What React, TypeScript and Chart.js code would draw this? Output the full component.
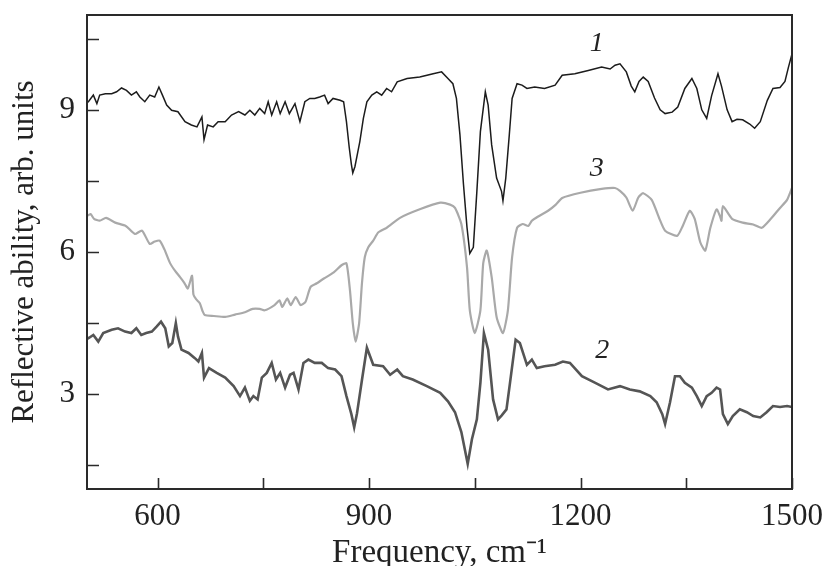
import React, { useEffect, useRef } from "react";
import { Chart, registerables } from "chart.js";

Chart.register(...registerables);

// Curve 1 (black, top)
const FREQ_1 = [500, 502, 509, 514, 518, 526, 535, 542, 549, 556, 563, 570, 575, 582, 589, 596, 602, 607, 613, 620, 629, 639, 648, 656, 663, 666, 671, 679, 686, 696, 705, 715, 724, 731, 738, 745, 752, 757, 762, 769, 774, 781, 787, 795, 802, 809, 816, 823, 830, 837, 842, 849, 859, 864, 868, 872, 875, 877, 880, 884, 887, 892, 897, 904, 911, 918, 925, 932, 940, 954, 972, 991, 1003, 1012, 1019, 1024, 1029, 1034, 1039, 1043, 1048, 1053, 1058, 1065, 1069, 1074, 1081, 1088, 1090, 1094, 1099, 1103, 1110, 1117, 1124, 1135, 1149, 1164, 1174, 1192, 1211, 1230, 1242, 1249, 1256, 1265, 1272, 1277, 1283, 1289, 1296, 1305, 1313, 1320, 1330, 1338, 1348, 1358, 1365, 1372, 1379, 1386, 1395, 1400, 1408, 1415, 1422, 1430, 1440, 1447, 1455, 1465, 1473, 1483, 1490, 1495, 1500];
const REFL_1 = [9.15, 9.17, 9.31, 9.13, 9.31, 9.34, 9.34, 9.38, 9.46, 9.41, 9.31, 9.38, 9.27, 9.17, 9.31, 9.27, 9.48, 9.31, 9.1, 8.99, 8.96, 8.75, 8.68, 8.64, 8.85, 8.37, 8.68, 8.64, 8.75, 8.75, 8.89, 8.96, 8.89, 8.99, 8.89, 9.03, 8.92, 9.17, 8.89, 9.17, 8.92, 9.17, 8.92, 9.13, 8.75, 9.17, 9.24, 9.24, 9.27, 9.31, 9.13, 9.24, 9.2, 9.17, 8.75, 8.2, 7.85, 7.67, 7.8, 8.1, 8.33, 8.82, 9.17, 9.31, 9.38, 9.31, 9.45, 9.38, 9.59, 9.66, 9.69, 9.76, 9.8, 9.66, 9.55, 9.24, 8.47, 7.43, 6.52, 5.97, 6.1, 7.28, 8.54, 9.38, 9.1, 8.26, 7.56, 7.28, 7.08, 7.56, 8.47, 9.24, 9.55, 9.52, 9.45, 9.48, 9.45, 9.52, 9.73, 9.76, 9.83, 9.9, 9.86, 9.94, 9.97, 9.8, 9.5, 9.38, 9.6, 9.69, 9.6, 9.25, 9.0, 8.92, 8.95, 9.06, 9.45, 9.66, 9.45, 9.0, 8.82, 9.3, 9.76, 9.5, 9.0, 8.75, 8.8, 8.79, 8.7, 8.61, 8.75, 9.2, 9.45, 9.47, 9.6, 9.9, 10.18];

// Curve 3 (light grey, middle)
const FREQ_3 = [500, 505, 510, 518, 527, 540, 555, 568, 578, 589, 596, 603, 610, 618, 625, 632, 638, 643, 649, 651, 655, 660, 664, 667, 680, 696, 710, 724, 735, 745, 752, 766, 773, 777, 784, 789, 796, 803, 810, 817, 826, 836, 850, 861, 868, 873, 877, 881, 886, 890, 894, 899, 906, 913, 925, 944, 972, 1001, 1015, 1022, 1031, 1039, 1043, 1050, 1058, 1062, 1067, 1074, 1081, 1090, 1097, 1103, 1110, 1118, 1126, 1131, 1140, 1154, 1165, 1174, 1200, 1230, 1249, 1256, 1265, 1274, 1282, 1289, 1301, 1312, 1320, 1337, 1345, 1355, 1362, 1370, 1377, 1384, 1393, 1398, 1400, 1402, 1415, 1430, 1445, 1457, 1470, 1483, 1493, 1500];
const REFL_3 = [6.76, 6.8, 6.7, 6.66, 6.72, 6.62, 6.55, 6.38, 6.45, 6.17, 6.22, 6.24, 6.05, 5.76, 5.6, 5.47, 5.35, 5.23, 5.5, 5.1, 5.0, 4.92, 4.75, 4.67, 4.65, 4.63, 4.68, 4.73, 4.8, 4.8, 4.77, 4.88, 4.98, 4.84, 5.02, 4.88, 5.05, 4.88, 4.95, 5.26, 5.34, 5.44, 5.57, 5.72, 5.76, 5.19, 4.5, 4.11, 4.5, 5.34, 5.89, 6.1, 6.24, 6.41, 6.51, 6.72, 6.9, 7.04, 7.0, 6.93, 6.59, 5.68, 4.77, 4.29, 4.77, 5.76, 6.03, 5.47, 4.63, 4.29, 4.77, 5.89, 6.51, 6.59, 6.55, 6.66, 6.75, 6.87, 7.0, 7.14, 7.25, 7.33, 7.35, 7.29, 7.15, 6.87, 7.15, 7.24, 7.1, 6.7, 6.45, 6.34, 6.55, 6.87, 6.7, 6.2, 6.03, 6.5, 6.9, 6.75, 6.66, 6.97, 6.7, 6.62, 6.58, 6.51, 6.7, 6.93, 7.1, 7.35];

// Curve 2 (dark grey, bottom)
const FREQ_2 = [500, 502, 509, 516, 523, 535, 544, 554, 563, 570, 577, 584, 592, 599, 605, 611, 616, 621, 626, 629, 634, 644, 653, 658, 663, 666, 673, 684, 696, 708, 717, 724, 731, 736, 742, 748, 755, 762, 768, 774, 781, 788, 793, 800, 807, 814, 823, 833, 842, 852, 861, 868, 875, 879, 883, 890, 897, 906, 920, 930, 940, 948, 962, 982, 1001, 1012, 1022, 1031, 1040, 1046, 1053, 1058, 1063, 1069, 1076, 1083, 1088, 1095, 1100, 1108, 1114, 1124, 1131, 1138, 1149, 1164, 1175, 1185, 1202, 1221, 1239, 1256, 1270, 1284, 1299, 1308, 1316, 1320, 1327, 1334, 1341, 1348, 1358, 1365, 1372, 1379, 1386, 1393, 1398, 1402, 1409, 1416, 1426, 1436, 1445, 1455, 1464, 1473, 1483, 1493, 1500];
const REFL_2 = [4.2, 4.18, 4.25, 4.11, 4.29, 4.36, 4.39, 4.32, 4.29, 4.39, 4.25, 4.29, 4.32, 4.43, 4.53, 4.39, 4.01, 4.08, 4.5, 4.22, 3.94, 3.87, 3.76, 3.69, 3.87, 3.35, 3.55, 3.45, 3.35, 3.17, 2.96, 3.14, 2.86, 2.96, 2.89, 3.35, 3.45, 3.66, 3.31, 3.45, 3.14, 3.41, 3.45, 3.1, 3.66, 3.73, 3.66, 3.66, 3.55, 3.52, 3.38, 2.96, 2.58, 2.3, 2.6, 3.3, 3.98, 3.62, 3.59, 3.41, 3.52, 3.38, 3.31, 3.17, 3.03, 2.85, 2.62, 2.2, 1.53, 2.05, 2.47, 3.24, 4.29, 3.94, 2.89, 2.47, 2.55, 2.68, 3.24, 4.15, 4.08, 3.62, 3.73, 3.55, 3.59, 3.62, 3.69, 3.66, 3.38, 3.24, 3.1, 3.17, 3.1, 3.06, 2.96, 2.83, 2.58, 2.37, 2.83, 3.38, 3.38, 3.24, 3.14, 2.96, 2.75, 2.96, 3.03, 3.14, 3.1, 2.58, 2.37, 2.54, 2.68, 2.62, 2.54, 2.51, 2.62, 2.75, 2.73, 2.75, 2.73];

const X_MIN = 500;
const X_MAX = 1500;
const Y_MIN = 1;
const Y_MAX = 11;
const X_TICKS = [600, 750, 900, 1050, 1200, 1350, 1500];
const X_LABELED = [600, 900, 1200, 1500];
const Y_TICKS = [1.5, 3, 4.5, 6, 7.5, 9, 10.5];
const Y_LABELED = [3, 6, 9];

const CURVE_NAMES = ["1", "3", "2"];
const CURVE_NAME_X = [1223, 1223, 1231];
const CURVE_NAME_Y = [10.4, 7.76, 3.92];

const X_TITLE = "Frequency, cm\u207B\u00B9";
const Y_TITLE = "Reflective ability, arb. units";

const FONT = '"Liberation Serif", "Times New Roman", serif';
const TEXT = "#222222";

const toPoints = (xs: number[], ys: number[]) => xs.map((x, i) => ({ x, y: ys[i] }));

const framePlugin = {
  id: "frameTicks",
  afterDraw(chart: any) {
    const { ctx, chartArea: a, scales } = chart;
    const x = scales.x;
    const y = scales.y;
    ctx.save();
    ctx.strokeStyle = "#2a2a2a";
    ctx.lineWidth = 2;
    ctx.strokeRect(a.left, a.top, a.right - a.left, a.bottom - a.top);
    ctx.lineWidth = 1.6;
    ctx.beginPath();
    for (const t of X_TICKS) {
      const px = Math.round(x.getPixelForValue(t)) + 0.5;
      ctx.moveTo(px, a.bottom);
      ctx.lineTo(px, a.bottom - 11);
    }
    for (const t of Y_TICKS) {
      const py = Math.round(y.getPixelForValue(t)) + 0.5;
      ctx.moveTo(a.left, py);
      ctx.lineTo(a.left + 12, py);
    }
    ctx.stroke();
    ctx.fillStyle = TEXT;
    ctx.font = `italic 28px ${FONT}`;
    ctx.textAlign = "center";
    ctx.textBaseline = "middle";
    CURVE_NAMES.forEach((n, i) => {
      ctx.fillText(n, x.getPixelForValue(CURVE_NAME_X[i]), y.getPixelForValue(CURVE_NAME_Y[i]));
    });
    ctx.restore();
  },
};

export default function App() {
  const ref = useRef<HTMLCanvasElement | null>(null);

  useEffect(() => {
    if (!ref.current) return;
    const chart = new Chart(ref.current, {
      type: "line",
      data: {
        datasets: [
          {
            label: "1",
            data: toPoints(FREQ_1, REFL_1),
            borderColor: "#1c1c1c",
            borderWidth: 1.5,
            pointRadius: 0,
            tension: 0,
          },
          {
            label: "3",
            data: toPoints(FREQ_3, REFL_3),
            borderColor: "#a9a9a9",
            borderWidth: 2.2,
            pointRadius: 0,
            tension: 0.2,
          },
          {
            label: "2",
            data: toPoints(FREQ_2, REFL_2),
            borderColor: "#555555",
            borderWidth: 2.6,
            pointRadius: 0,
            tension: 0,
          },
        ],
      },
      options: {
        animation: false,
        responsive: false,
        devicePixelRatio: 1,
        layout: { padding: { top: 15, right: 38, left: 0, bottom: 0 } },
        plugins: {
          legend: { display: false },
          tooltip: { enabled: false },
        },
        scales: {
          x: {
            type: "linear",
            min: X_MIN,
            max: X_MAX,
            afterBuildTicks: (s: any) => {
              s.ticks = X_TICKS.map((v) => ({ value: v }));
            },
            afterFit: (s: any) => {
              s.height = 77;
              s.paddingLeft = 0;
              s.paddingRight = 0;
              s.paddingTop = 0;
              s.paddingBottom = 0;
            },
            grid: { display: false, drawTicks: false },
            border: { display: false },
            ticks: {
              autoSkip: false,
              maxRotation: 0,
              padding: 9,
              color: TEXT,
              font: { family: FONT, size: 31 },
              callback: (v: any) => (X_LABELED.includes(Number(v)) ? String(v) : ""),
            },
            title: {
              display: true,
              text: X_TITLE,
              color: TEXT,
              font: { family: FONT, size: 33 },
              padding: { top: 0, bottom: -7 },
            },
          },
          y: {
            type: "linear",
            min: Y_MIN,
            max: Y_MAX,
            afterBuildTicks: (s: any) => {
              s.ticks = Y_TICKS.map((v) => ({ value: v }));
            },
            afterFit: (s: any) => {
              s.width = 87;
              s.paddingLeft = 0;
              s.paddingRight = 0;
              s.paddingTop = 0;
              s.paddingBottom = 0;
            },
            grid: { display: false, drawTicks: false },
            border: { display: false },
            ticks: {
              autoSkip: false,
              padding: 12,
              color: TEXT,
              font: { family: FONT, size: 31 },
              callback: (v: any) => (Y_LABELED.includes(Number(v)) ? String(v) : ""),
            },
            title: {
              display: true,
              text: Y_TITLE,
              color: TEXT,
              font: { family: FONT, size: 31 },
              padding: { top: 6, bottom: 0 },
            },
          },
        },
      },
      plugins: [framePlugin],
    });
    return () => chart.destroy();
  }, []);

  return (
    <div style={{ position: "fixed", left: 0, top: 0, width: 830, height: 566, background: "#fff" }}>
      <canvas ref={ref} width={830} height={566} />
    </div>
  );
}
